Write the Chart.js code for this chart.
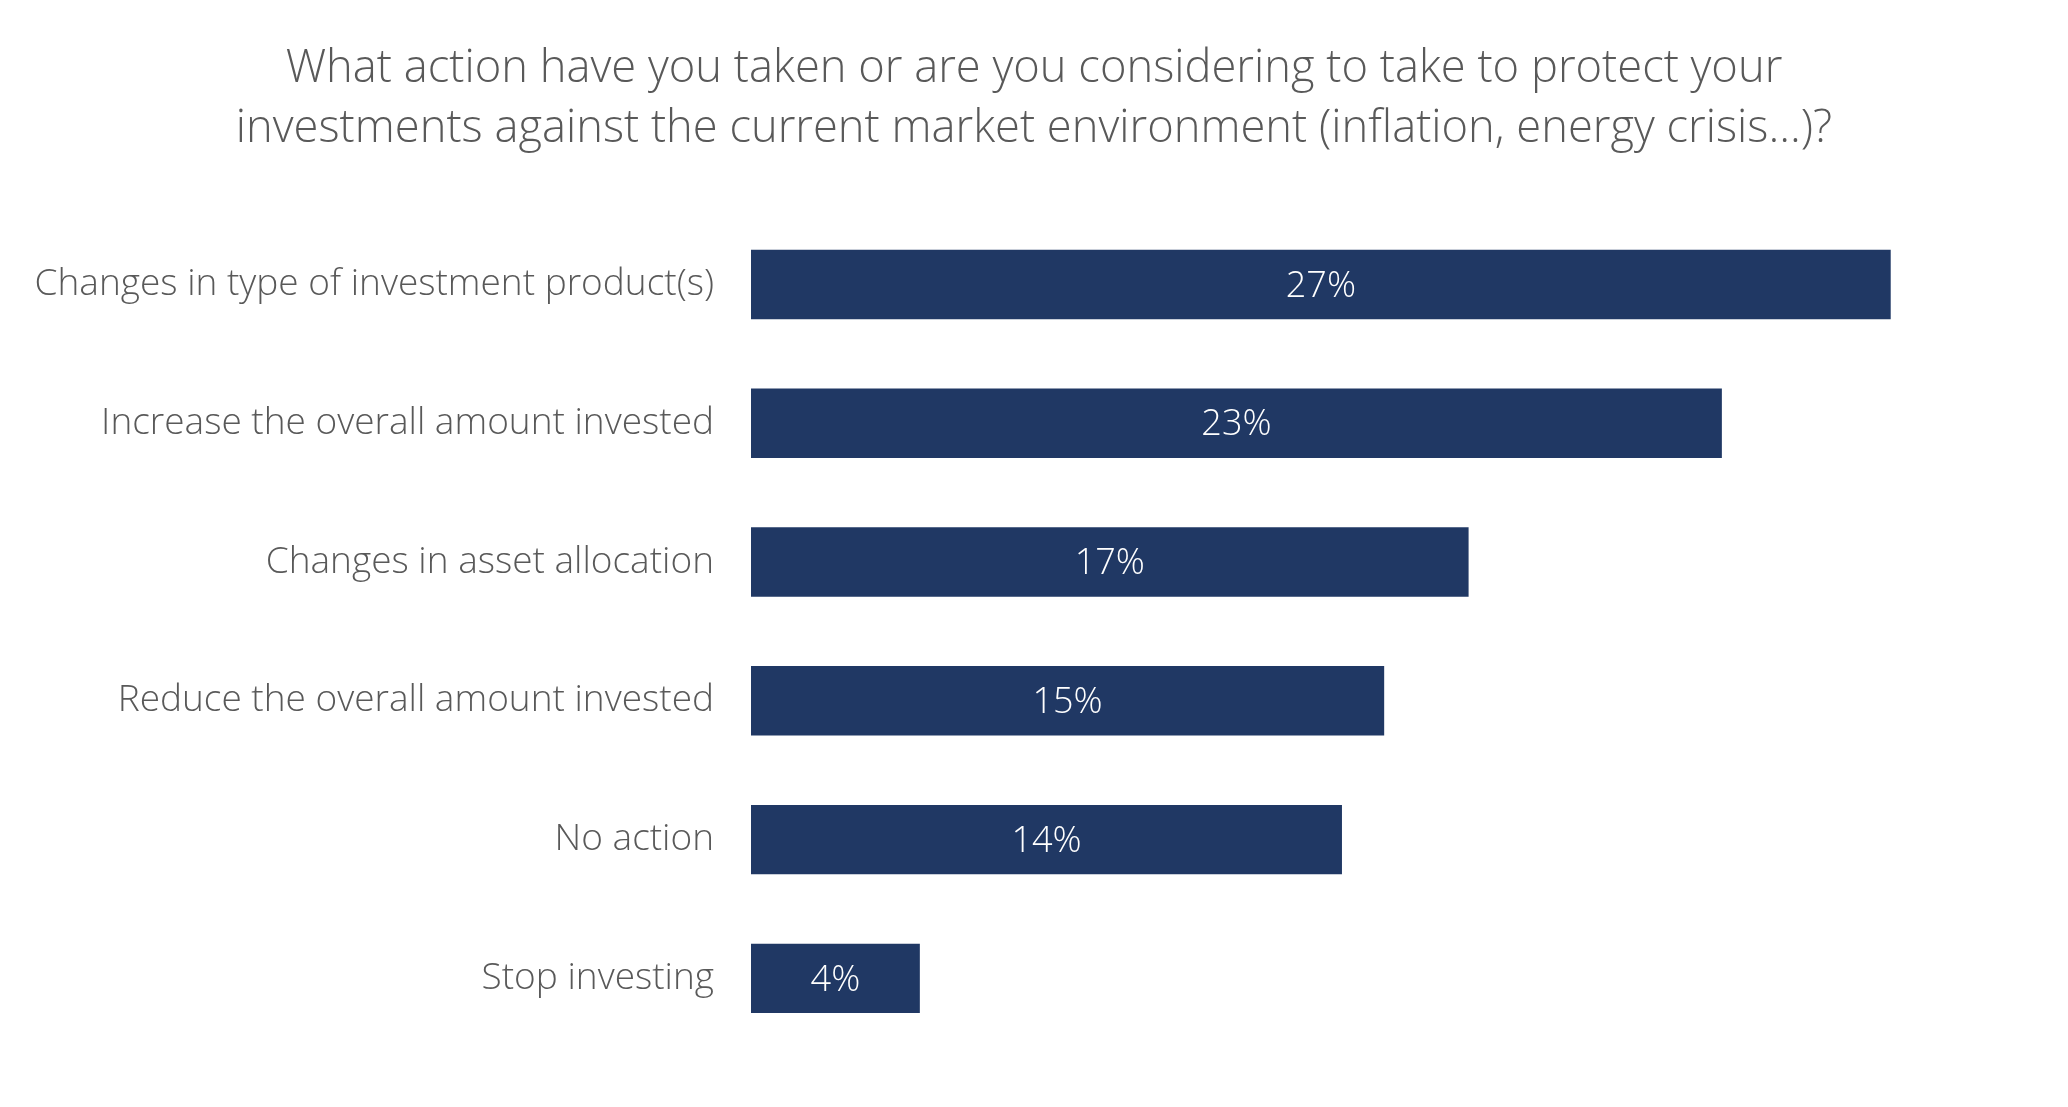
<!DOCTYPE html>
<html>
<head>
<meta charset="utf-8">
<title>Protecting investments</title>
<script src="https://cdn.jsdelivr.net/npm/chart.js@4.4.1/dist/chart.umd.min.js"></script>
<style>
  html, body { margin: 0; padding: 0; background: #ffffff; }
  #wrap { width: 2068px; height: 1107px; position: relative; }
</style>
</head>
<body>
<div id="wrap"><canvas id="chart"></canvas></div>
<script>
// Data
var actions = [
    "Changes in type of investment product(s)",
    "Increase the overall amount invested",
    "Changes in asset allocation",
    "Reduce the overall amount invested",
    "No action",
    "Stop investing"
];
var shares = [27, 23, 17, 15, 14, 4];

var titleLines = [
    "What action have you taken or are you considering to take to protect your",
    "investments against the current market environment (inflation, energy crisis...)?"
];

var barColor = "#203864";
var textGrey = "#595959";

// Writes the value in the middle of each bar
var barValues = {
    id: "barValues",
    afterDatasetsDraw: function(chart) {
        var ctx = chart.ctx;
        var meta = chart.getDatasetMeta(0);
        ctx.save();
        ctx.fillStyle = "#ffffff";
        ctx.font = "300 36px 'Open Sans'";
        ctx.textAlign = "center";
        ctx.textBaseline = "middle";
        meta.data.forEach(function(bar, i) {
            var cx = (bar.x + bar.base) / 2;
            ctx.fillText(shares[i] + "%", cx, bar.y + 2);
        });
        ctx.restore();
    }
};

new Chart(document.getElementById("chart"), {
    type: "bar",
    data: {
        labels: actions,
        datasets: [{
            data: shares,
            backgroundColor: barColor,
            borderWidth: 0,
            categoryPercentage: 1,
            barPercentage: 0.5
        }]
    },
    options: {
        indexAxis: "y",
        responsive: true,
        maintainAspectRatio: false,
        animation: false,
        layout: {
            padding: { top: 0, right: 0, bottom: 51, left: 0 }
        },
        plugins: {
            legend: { display: false },
            tooltip: { enabled: false },
            title: {
                display: true,
                text: titleLines,
                color: textGrey,
                font: { family: "'Open Sans'", size: 45.3, weight: 300, lineHeight: 1.325 },
                padding: { top: 39, bottom: 56 }
            }
        },
        scales: {
            x: {
                display: false,
                min: 0,
                max: 31.2
            },
            y: {
                grid: { display: false, drawTicks: false },
                border: { display: false },
                ticks: {
                    color: textGrey,
                    padding: 37,
                    font: { family: "'Open Sans'", size: 37, weight: 300 }
                },
                afterFit: function(scale) {
                    scale.width = 751;
                }
            }
        }
    },
    plugins: [barValues]
});
</script>
</body>
</html>
